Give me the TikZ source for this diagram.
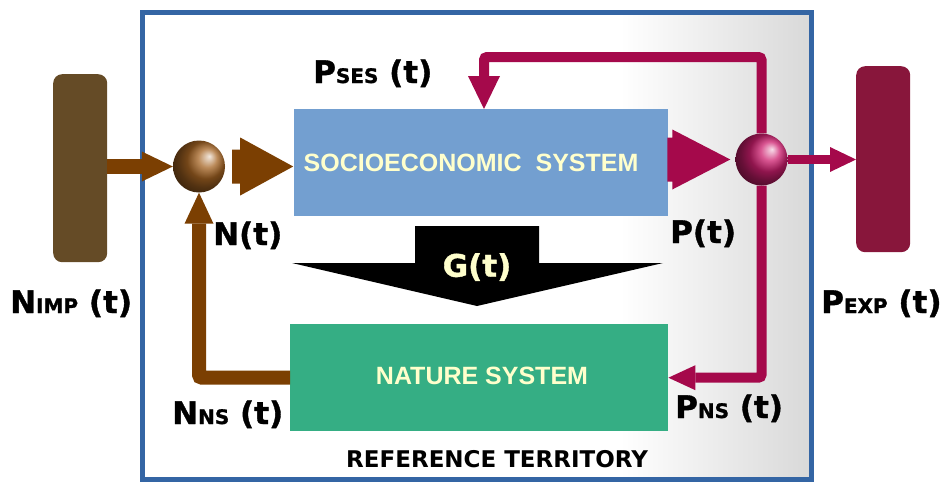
\documentclass[tikz,border=0pt]{standalone}
\usepackage{fontspec}
\newfontfamily\dejavu{DejaVu Sans}
\newfontfamily\dejavuheavy{DejaVu Sans}[BoldFeatures={FakeBold=1.2}]
\newfontfamily\libsans{Liberation Sans}
\usetikzlibrary{arrows.meta,calc,shadings}
\definecolor{brownA}{HTML}{7B3F02}
\definecolor{impbar}{HTML}{654B26}
\definecolor{pinkA}{HTML}{A5094B}
\definecolor{expbar}{HTML}{88163B}
\definecolor{socio}{HTML}{739FD0}
\definecolor{nature}{HTML}{35AE84}
\definecolor{framec}{HTML}{3465A4}
\definecolor{paley}{HTML}{FFFFCC}
\newcommand{\labbig}{\fontsize{31}{34}\selectfont}
\newcommand{\labsml}{\fontsize{20}{22}\selectfont}
\begin{document}
\begin{tikzpicture}[x=1pt,y=-1pt,
  framebox/.style={draw=framec,line width=5pt},
  sysbox/.style={inner sep=0pt,anchor=north west},
  systext/.style={text=paley,font=\libsans\bfseries\fontsize{25}{28}\selectfont,inner sep=0pt},
  bar/.style={rounded corners=9pt,inner sep=0pt,anchor=north west,minimum width=54pt},
  ball/.style={circle,inner sep=0pt,minimum size=52pt,shading=ball,shading angle=-90},
  lab/.style={anchor=base west,inner sep=0pt,font=\dejavuheavy\bfseries\labbig},
  brownline/.style={draw=brownA,line width=14pt},
  pinkline/.style={draw=pinkA,line width=10pt,rounded corners=3pt},
]
\useasboundingbox (0,0) rectangle (951,482);
% territory frame
\fill[white] (142,12) rectangle (811,479);
\shade[left color=white,right color=gray!30] (620,12) rectangle (811,479);
\draw[framebox] (142,12) rectangle (811,479);

% outside bars
\node[bar,fill=impbar,minimum height=188pt] (imp) at (53,74) {};
\node[bar,fill=expbar,minimum height=186pt] (exp) at (856,66) {};

% systems
\node[sysbox,fill=socio,minimum width=374pt,minimum height=107pt] (ses) at (294,109) {};
\node[sysbox,fill=nature,minimum width=378pt,minimum height=107pt] (ns) at (290,324) {};
\node[systext] (sestext) at (471,163) {SOCIOECONOMIC\ \ SYSTEM};
\node[systext] (nstext) at (482,376) {NATURE SYSTEM};

% spheres
\node[ball,ball color={rgb,255:red,165;green,100;blue,35}] (nb) at (199,166.5) {};
\node[ball,ball color={rgb,255:red,205;green,30;blue,110}] (np) at (761.5,159.5) {};

% G(t) arrow
\fill[black] (415,226) -- (539,226) -- (539,263) -- (663,263) -- (477,306) -- (292,263) -- (415,263) -- cycle;
\node[text=paley,font=\dejavuheavy\bfseries\labbig,inner sep=0pt] (g) at (477,267) {G(t)};

% brown flows
\draw[brownA,line width=15pt,-{Triangle[length=31pt,width=30pt,line width=0pt]}] (imp.east |- nb.west) -- (nb.west);
\fill[brownA,shift={(nb.east)}] (7,-17) -- (15,-17) -- (15,-29) -- (68,0) -- (15,29) -- (15,17) -- (7,17) -- cycle;
\draw[brownline,rounded corners=3pt,-{Triangle[length=31pt,width=29pt,line width=0pt]}] (ns.west) -| (nb.south);

% pink flows
\fill[pinkA,shift={(np.west)}] (-68,-22) -- (-63,-22) -- (-63,-30) -- (-5,0) -- (-63,30) -- (-63,22) -- (-68,22) -- cycle;
\coordinate (toploop) at (484,57);
\draw[pinkline,-{Triangle[length=33pt,width=32pt,line width=0pt]}] (np.north) |- (toploop) -- (toploop |- ses.north);
\draw[pinkline,-{Triangle[length=27pt,width=25pt,line width=0pt]}] (np.south) |- (ns.east);
\draw[draw=pinkA,line width=9pt,-{Triangle[length=26pt,width=25pt,line width=0pt]}] (np.east) -- (exp.west |- np.east);

% labels
\node[lab] (lses) at (313,83) {P{\labsml SES}\ (t)};
\node[lab] (lnt) at (213,245) {N(t)};
\node[lab] (lpt) at (670,243) {P(t)};
\node[lab] (limp) at (10,313) {N{\labsml IMP}\ (t)};
\node[lab] (lexp) at (821,313) {P{\labsml EXP} (t)};
\node[lab] (lnns) at (172,424) {N{\labsml NS} (t)};
\node[lab] (lpns) at (675,418) {P{\labsml NS} (t)};
\node[anchor=base west,inner sep=0pt,font=\dejavu\bfseries\fontsize{23}{26}\selectfont] (ref) at (346,467) {REFERENCE TERRITORY};
\end{tikzpicture}
\end{document}
